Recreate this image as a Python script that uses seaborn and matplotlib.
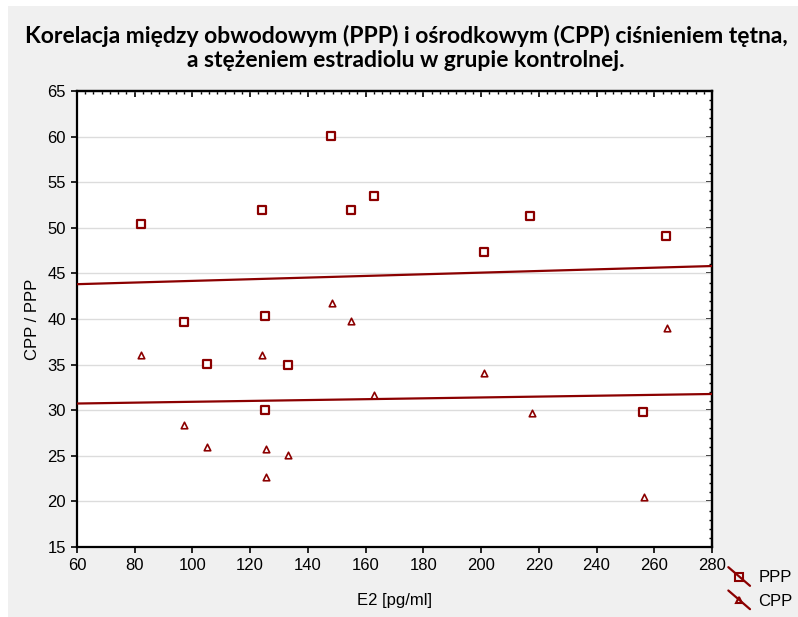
import matplotlib
matplotlib.use("Agg")
import matplotlib.pyplot as plt
import seaborn as sns
import numpy as np
import pandas as pd
from matplotlib.lines import Line2D
from matplotlib.legend_handler import HandlerBase
from matplotlib.ticker import MultipleLocator, AutoMinorLocator
from matplotlib.patches import Rectangle

# ---- data ----
ppp_e2 = [82, 97, 105, 124, 125, 125, 133, 148, 155, 163, 201, 217, 256, 264]
ppp_val = [50.4, 39.7, 35.1, 52.0, 40.3, 30.0, 35.0, 60.1, 52.0, 53.5, 47.4, 51.3, 29.8, 49.1]
cpp_e2 = [82, 97, 105, 124, 125.5, 125.5, 133, 148.5, 155, 163, 201, 217.5, 256.5, 264.5]
cpp_val = [36.1, 28.4, 26.0, 36.1, 25.7, 22.7, 25.1, 41.8, 39.8, 31.7, 34.1, 29.7, 20.5, 39.0]
series_names = ["PPP", "CPP"]

title = ("Korelacja między obwodowym (PPP) i ośrodkowym (CPP) ciśnieniem tętna,\n"
         "a stężeniem estradiolu w grupie kontrolnej.")
x_label = "E2 [pg/ml]"
y_label = "CPP / PPP"

ppp_df = pd.DataFrame({"E2": ppp_e2, "val": ppp_val})
cpp_df = pd.DataFrame({"E2": cpp_e2, "val": cpp_val})

RED = "#8b0000"
GRAY_BG = "#f0f0f0"

sns.set_style("white")
plt.rcParams["font.family"] = ["Liberation Sans", "DejaVu Sans"]
plt.rcParams["text.color"] = "black"
plt.rcParams["axes.labelcolor"] = "black"
plt.rcParams["xtick.color"] = "black"
plt.rcParams["ytick.color"] = "black"

fig = plt.figure(figsize=(7.98, 6.17), dpi=100)
fig.patch.set_facecolor("white")
fig.patches.append(Rectangle((8 / 798, 0), 1, 1 - 6 / 617, transform=fig.transFigure,
                             facecolor=GRAY_BG, edgecolor="none", zorder=-10))

ax = fig.add_axes([77 / 798, 1 - 547 / 617, (712 - 77) / 798, (547 - 91) / 617])
ax.set_facecolor("white")
ax.set_xlim(60, 280)
ax.set_ylim(15, 65)

sns.regplot(data=ppp_df, x="E2", y="val", ax=ax, ci=None, truncate=False, marker="s",
            scatter_kws=dict(s=28, facecolors="white", edgecolors=RED, linewidths=1.6, alpha=1, zorder=4),
            line_kws=dict(color=RED, lw=1.6, zorder=3))
sns.regplot(data=cpp_df, x="E2", y="val", ax=ax, ci=None, truncate=False, marker="^",
            scatter_kws=dict(s=22, facecolors="white", edgecolors=RED, linewidths=1.2, alpha=1, zorder=4),
            line_kws=dict(color=RED, lw=1.6, zorder=3))

ax.set_xlim(60, 280)
ax.set_ylim(15, 65)
ax.xaxis.set_major_locator(MultipleLocator(20))
ax.yaxis.set_major_locator(MultipleLocator(5))
ax.yaxis.grid(True, color="#dcdcdc", lw=1)
ax.xaxis.grid(False)
ax.set_axisbelow(True)

for s in ax.spines.values():
    s.set_visible(True)
    s.set_color("black")
    s.set_linewidth(1.6)

ax.tick_params(axis="both", which="major", direction="out", length=4, width=1.2,
               labelsize=12, pad=4, colors="black", bottom=True, left=True)

# inward ticks at top and right
secx = ax.secondary_xaxis("top")
secx.xaxis.set_major_locator(MultipleLocator(20))
secx.xaxis.set_minor_locator(AutoMinorLocator(7))
secx.tick_params(which="major", direction="in", length=4, width=1.2, labeltop=False)
secx.tick_params(which="minor", direction="in", length=2, width=1.0)
secx.spines["top"].set_linewidth(1.6)
secy = ax.secondary_yaxis("right")
secy.yaxis.set_major_locator(MultipleLocator(5))
secy.yaxis.set_minor_locator(AutoMinorLocator(5))
secy.tick_params(which="major", direction="in", length=4, width=1.2, labelright=False)
secy.tick_params(which="minor", direction="in", length=2, width=1.0)
secy.spines["right"].set_linewidth(1.6)

ax.set_xlabel(x_label, fontsize=12, labelpad=14)
ax.set_ylabel(y_label, fontsize=12, labelpad=5)

fig.text(406 / 798, 1 - 25 / 617, title, ha="center", va="top", fontsize=16.5,
         fontweight="bold", family=["Lato", "DejaVu Sans"], linespacing=1.2, color="black")


class DiagHandler(HandlerBase):
    def create_artists(self, legend, orig_handle, xdescent, ydescent, width, height,
                       fontsize, trans):
        c = orig_handle.get_color()
        x0, y0 = -xdescent, -ydescent
        ln = Line2D([x0, x0 + width], [y0 + height * 1.3, y0 - height * 0.3], color=c,
                    lw=1.6, transform=trans)
        mk = Line2D([x0 + width / 2], [y0 + height / 2], marker=orig_handle.get_marker(),
                    markersize=orig_handle.get_markersize(), mfc="none", mec=c, mew=1.5,
                    ls="none", transform=trans)
        return [ln, mk]


handles = [Line2D([], [], color=RED, marker="s", markersize=6),
           Line2D([], [], color=RED, marker="^", markersize=5)]
fig.legend(handles, series_names, handler_map={Line2D: DiagHandler()}, loc="upper left",
           bbox_to_anchor=(720 / 798, 1 - 562 / 617), frameon=False, fontsize=12,
           handlelength=1.3, handletextpad=0.5, labelspacing=0.5, borderpad=0)

fig.savefig("out.png", dpi=100, facecolor=fig.get_facecolor())
